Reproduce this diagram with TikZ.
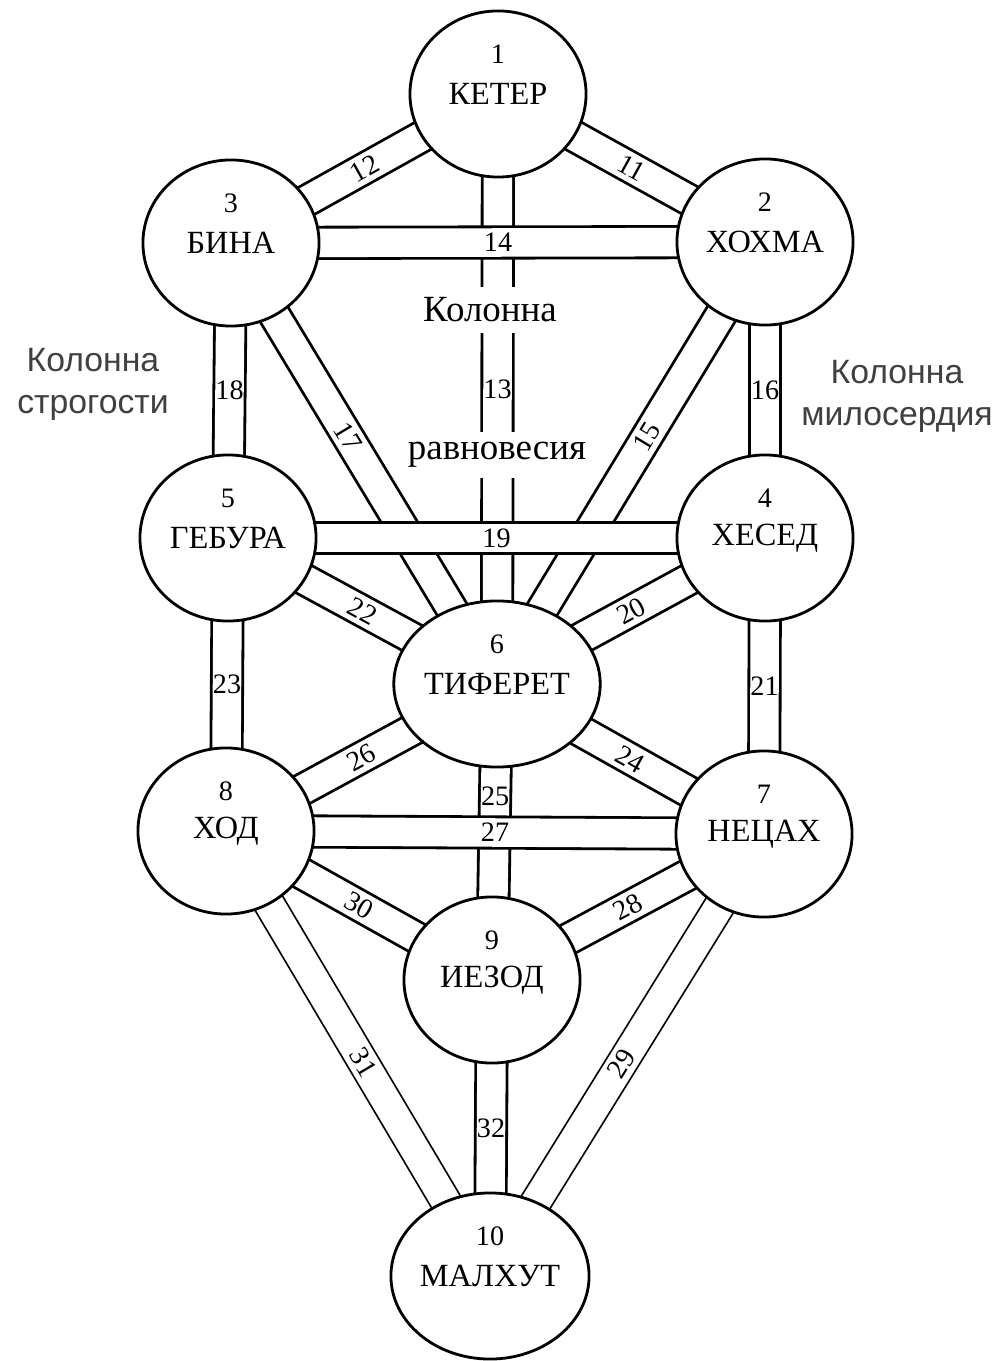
\documentclass[tikz,border=0pt]{standalone}
\usepackage{fontspec}
\setmainfont{Liberation Serif}
\setsansfont{Liberation Sans}
\usetikzlibrary{shapes.geometric}
\pgfdeclarelayer{bg}
\pgfsetlayers{bg,main}
\newcommand{\namefont}{\fontsize{9.2}{11}\selectfont}
\newcommand{\numfont}{\fontsize{8}{10}\selectfont}
\newcommand{\midfont}{\fontsize{10.5}{12}\selectfont}
\tikzset{
  sefira/.style={draw,fill=white,ellipse,line width=0.8pt,minimum width=1.76cm,minimum height=1.66cm,inner sep=0pt,font=\namefont},
  channel/.style={line width=0.8pt,double=white,double distance=0.285cm},
  thinchannel/.style={line width=0.5pt,double=white,double distance=0.29cm},
  num/.style={font=\numfont,inner sep=1pt},
  column/.style={font=\sffamily\fontsize{9.6}{12}\selectfont,text=black!75,align=center},
}
\begin{document}
\begin{tikzpicture}[x=0.01cm,y=-0.01cm]
\useasboundingbox (0,0) rectangle (1002,1361);

\node (keter)	at (498,94)	[sefira,label={[font=\numfont,yshift=0.40cm]center:1}] {КЕТЕР};
\node (hokhma)	at (765,242)	[sefira,label={[font=\numfont,yshift=0.40cm]center:2}] {ХОХМА};
\node (binah)	at (231,243)	[sefira,label={[font=\numfont,yshift=0.40cm]center:3}] {БИНА};
\node (hesed)	at (765,538)	[sefira,label={[font=\numfont,yshift=0.40cm]center:4}] {ХЕСЕД};
\node (gebura)	at (228,538)	[sefira,label={[font=\numfont,yshift=0.40cm]center:5}] {ГЕБУРА};
\node (tiferet)	at (497,684)	[sefira,label={[font=\numfont,yshift=0.40cm]center:6}] {ТИФЕРЕТ};
\node (netsah)	at (764,834)	[sefira,label={[font=\numfont,yshift=0.40cm]center:7}] {НЕЦАХ};
\node (hod)	at (226,831)	[sefira,label={[font=\numfont,yshift=0.40cm]center:8}] {ХОД};
\node (iesod)	at (492,980)	[sefira,label={[font=\numfont,yshift=0.40cm]center:9}] {ИЕЗОД};
\node (malkhut)	at (490,1276)	[sefira,label={[font=\numfont,yshift=0.40cm]center:10}] {МАЛХУТ};

\begin{pgfonlayer}{bg}
\draw [channel] (binah.center) to node[num,sloped,pos=0.5]{12} (keter.center);
\draw [channel] (keter.center) to node[num,sloped,pos=0.5]{11} (hokhma.center);
\draw [channel] (keter.center) to node[num,pos=0.5]{13} (tiferet.center);
\draw [channel] (binah.center) to node[num,sloped,pos=0.44]{17} (tiferet.center);
\draw [channel] (hokhma.center) to node[num,sloped,pos=0.44]{15} (tiferet.center);
\draw [channel] (binah.center) to node[num,pos=0.5]{18} (gebura.center);
\draw [channel] (hokhma.center) to node[num,pos=0.5]{16} (hesed.center);
\draw [channel] (gebura.center) to node[num,sloped,pos=0.5]{22} (tiferet.center);
\draw [channel] (hesed.center) to node[num,sloped,pos=0.5]{20} (tiferet.center);
\draw [channel] (gebura.center) to node[num,pos=0.5]{23} (hod.center);
\draw [channel] (hesed.center) to node[num,pos=0.5]{21} (netsah.center);
\draw [channel] (hod.center) to node[num,sloped,pos=0.5]{26} (tiferet.center);
\draw [channel] (netsah.center) to node[num,sloped,pos=0.5]{24} (tiferet.center);
\draw [channel] (tiferet.center) to node[num,pos=0.38]{25} (iesod.center);
\draw [channel] (hod.center) to node[num,sloped,pos=0.5]{30} (iesod.center);
\draw [channel] (netsah.center) to node[num,sloped,pos=0.5]{28} (iesod.center);
\draw [thinchannel] (hod.center) to node[num,sloped,pos=0.52]{31} (malkhut.center);
\draw [thinchannel] (netsah.center) to node[num,sloped,pos=0.52]{29} (malkhut.center);
\draw [channel] (iesod.center) to node[num,pos=0.5]{32} (malkhut.center);
\draw [channel] (binah.center) to node[num,pos=0.5]{14} (hokhma.center);
\draw [channel] (gebura.center) to node[num,pos=0.5]{19} (hesed.center);
\draw [channel] (hod.center) to node[num,pos=0.5]{27} (netsah.center);
\end{pgfonlayer}

\node (kolonna)	at (490,310)	[fill=white,inner sep=3pt,font=\midfont] {Колонна};
\node (ravnovesie)	at (497,455)	[fill=white,inner sep=3pt,font=\midfont] {равновесия};
\node (strogost)	at (93,384)	[column] {Колонна\\строгости};
\node (miloserdie)	at (897,396)	[column] {Колонна\\милосердия};

\end{tikzpicture}
\end{document}
